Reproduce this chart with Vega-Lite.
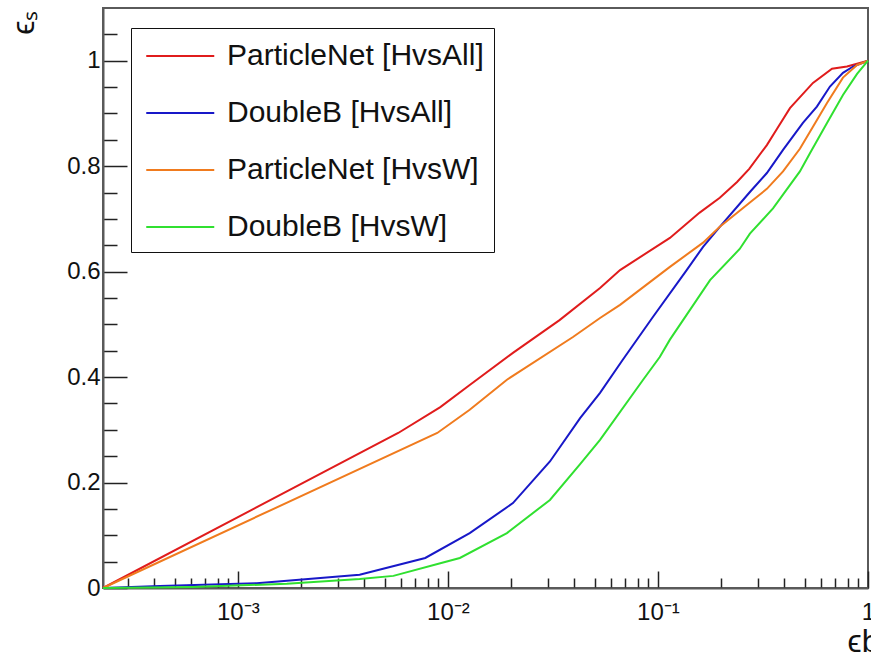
{
  "$schema": "https://vega.github.io/schema/vega-lite/v6.json",
  "autosize": {"type": "none"},
  "width": 765,
  "height": 580,
  "padding": {"left": 103, "top": 8, "right": 3, "bottom": 71},
  "background": "white",
  "config": {
    "view": {"stroke": "#5a5a5a", "strokeWidth": 2},
    "font": "Liberation Sans"
  },
  "data": {
    "values": [
      {"tagger": "ParticleNet [HvsAll]", "eb": 0.000228, "es": 0.0},
      {"tagger": "ParticleNet [HvsAll]", "eb": 0.0058, "es": 0.294},
      {"tagger": "ParticleNet [HvsAll]", "eb": 0.0092, "es": 0.343},
      {"tagger": "ParticleNet [HvsAll]", "eb": 0.0127, "es": 0.385},
      {"tagger": "ParticleNet [HvsAll]", "eb": 0.0204, "es": 0.446},
      {"tagger": "ParticleNet [HvsAll]", "eb": 0.034, "es": 0.508},
      {"tagger": "ParticleNet [HvsAll]", "eb": 0.053, "es": 0.569},
      {"tagger": "ParticleNet [HvsAll]", "eb": 0.066, "es": 0.603},
      {"tagger": "ParticleNet [HvsAll]", "eb": 0.114, "es": 0.664},
      {"tagger": "ParticleNet [HvsAll]", "eb": 0.158, "es": 0.712},
      {"tagger": "ParticleNet [HvsAll]", "eb": 0.197, "es": 0.74},
      {"tagger": "ParticleNet [HvsAll]", "eb": 0.238, "es": 0.77},
      {"tagger": "ParticleNet [HvsAll]", "eb": 0.272, "es": 0.795},
      {"tagger": "ParticleNet [HvsAll]", "eb": 0.33, "es": 0.84},
      {"tagger": "ParticleNet [HvsAll]", "eb": 0.369, "es": 0.871},
      {"tagger": "ParticleNet [HvsAll]", "eb": 0.425, "es": 0.91},
      {"tagger": "ParticleNet [HvsAll]", "eb": 0.547, "es": 0.958},
      {"tagger": "ParticleNet [HvsAll]", "eb": 0.674, "es": 0.985},
      {"tagger": "ParticleNet [HvsAll]", "eb": 0.794, "es": 0.989},
      {"tagger": "ParticleNet [HvsAll]", "eb": 1.0, "es": 1.0},

      {"tagger": "DoubleB [HvsAll]", "eb": 0.000228, "es": 0.0},
      {"tagger": "DoubleB [HvsAll]", "eb": 0.000425, "es": 0.004},
      {"tagger": "DoubleB [HvsAll]", "eb": 0.00123, "es": 0.009},
      {"tagger": "DoubleB [HvsAll]", "eb": 0.0038, "es": 0.025},
      {"tagger": "DoubleB [HvsAll]", "eb": 0.0078, "es": 0.057},
      {"tagger": "DoubleB [HvsAll]", "eb": 0.0127, "es": 0.104},
      {"tagger": "DoubleB [HvsAll]", "eb": 0.0204, "es": 0.161},
      {"tagger": "DoubleB [HvsAll]", "eb": 0.0306, "es": 0.24},
      {"tagger": "DoubleB [HvsAll]", "eb": 0.0426, "es": 0.322},
      {"tagger": "DoubleB [HvsAll]", "eb": 0.053, "es": 0.37},
      {"tagger": "DoubleB [HvsAll]", "eb": 0.068, "es": 0.433},
      {"tagger": "DoubleB [HvsAll]", "eb": 0.0946, "es": 0.514},
      {"tagger": "DoubleB [HvsAll]", "eb": 0.137, "es": 0.603},
      {"tagger": "DoubleB [HvsAll]", "eb": 0.164, "es": 0.647},
      {"tagger": "DoubleB [HvsAll]", "eb": 0.197, "es": 0.685},
      {"tagger": "DoubleB [HvsAll]", "eb": 0.274, "es": 0.751},
      {"tagger": "DoubleB [HvsAll]", "eb": 0.33, "es": 0.787},
      {"tagger": "DoubleB [HvsAll]", "eb": 0.394, "es": 0.831},
      {"tagger": "DoubleB [HvsAll]", "eb": 0.49, "es": 0.882},
      {"tagger": "DoubleB [HvsAll]", "eb": 0.571, "es": 0.913},
      {"tagger": "DoubleB [HvsAll]", "eb": 0.659, "es": 0.951},
      {"tagger": "DoubleB [HvsAll]", "eb": 0.76, "es": 0.977},
      {"tagger": "DoubleB [HvsAll]", "eb": 0.849, "es": 0.989},
      {"tagger": "DoubleB [HvsAll]", "eb": 1.0, "es": 1.0},

      {"tagger": "ParticleNet [HvsW]", "eb": 0.000228, "es": 0.0},
      {"tagger": "ParticleNet [HvsW]", "eb": 0.0089, "es": 0.294},
      {"tagger": "ParticleNet [HvsW]", "eb": 0.0127, "es": 0.338},
      {"tagger": "ParticleNet [HvsW]", "eb": 0.0191, "es": 0.395},
      {"tagger": "ParticleNet [HvsW]", "eb": 0.0394, "es": 0.476},
      {"tagger": "ParticleNet [HvsW]", "eb": 0.053, "es": 0.512},
      {"tagger": "ParticleNet [HvsW]", "eb": 0.066, "es": 0.537},
      {"tagger": "ParticleNet [HvsW]", "eb": 0.114, "es": 0.609},
      {"tagger": "ParticleNet [HvsW]", "eb": 0.164, "es": 0.655},
      {"tagger": "ParticleNet [HvsW]", "eb": 0.197, "es": 0.685},
      {"tagger": "ParticleNet [HvsW]", "eb": 0.274, "es": 0.731},
      {"tagger": "ParticleNet [HvsW]", "eb": 0.33, "es": 0.757},
      {"tagger": "ParticleNet [HvsW]", "eb": 0.394, "es": 0.79},
      {"tagger": "ParticleNet [HvsW]", "eb": 0.474, "es": 0.833},
      {"tagger": "ParticleNet [HvsW]", "eb": 0.547, "es": 0.875},
      {"tagger": "ParticleNet [HvsW]", "eb": 0.638, "es": 0.92},
      {"tagger": "ParticleNet [HvsW]", "eb": 0.76, "es": 0.968},
      {"tagger": "ParticleNet [HvsW]", "eb": 0.887, "es": 0.992},
      {"tagger": "ParticleNet [HvsW]", "eb": 1.0, "es": 1.0},

      {"tagger": "DoubleB [HvsW]", "eb": 0.000228, "es": 0.0},
      {"tagger": "DoubleB [HvsW]", "eb": 0.00061, "es": 0.002},
      {"tagger": "DoubleB [HvsW]", "eb": 0.00171, "es": 0.008},
      {"tagger": "DoubleB [HvsW]", "eb": 0.0038, "es": 0.017},
      {"tagger": "DoubleB [HvsW]", "eb": 0.0055, "es": 0.023},
      {"tagger": "DoubleB [HvsW]", "eb": 0.0092, "es": 0.047},
      {"tagger": "DoubleB [HvsW]", "eb": 0.0114, "es": 0.057},
      {"tagger": "DoubleB [HvsW]", "eb": 0.0191, "es": 0.104},
      {"tagger": "DoubleB [HvsW]", "eb": 0.0306, "es": 0.167},
      {"tagger": "DoubleB [HvsW]", "eb": 0.0426, "es": 0.235},
      {"tagger": "DoubleB [HvsW]", "eb": 0.053, "es": 0.281},
      {"tagger": "DoubleB [HvsW]", "eb": 0.085, "es": 0.395},
      {"tagger": "DoubleB [HvsW]", "eb": 0.102, "es": 0.438},
      {"tagger": "DoubleB [HvsW]", "eb": 0.114, "es": 0.471},
      {"tagger": "DoubleB [HvsW]", "eb": 0.177, "es": 0.584},
      {"tagger": "DoubleB [HvsW]", "eb": 0.245, "es": 0.643},
      {"tagger": "DoubleB [HvsW]", "eb": 0.274, "es": 0.672},
      {"tagger": "DoubleB [HvsW]", "eb": 0.353, "es": 0.72},
      {"tagger": "DoubleB [HvsW]", "eb": 0.474, "es": 0.79},
      {"tagger": "DoubleB [HvsW]", "eb": 0.53, "es": 0.825},
      {"tagger": "DoubleB [HvsW]", "eb": 0.638, "es": 0.882},
      {"tagger": "DoubleB [HvsW]", "eb": 0.76, "es": 0.935},
      {"tagger": "DoubleB [HvsW]", "eb": 0.887, "es": 0.975},
      {"tagger": "DoubleB [HvsW]", "eb": 1.0, "es": 1.0}
    ]
  },
  "mark": {"type": "line", "strokeWidth": 2, "interpolate": "linear"},
  "encoding": {
    "x": {
      "field": "eb",
      "type": "quantitative",
      "scale": {"type": "log", "domain": [0.000228, 1], "nice": false},
      "axis": {
        "values": [0.0003, 0.0004, 0.0005, 0.0006, 0.0007, 0.0008, 0.0009,
                   0.001, 0.002, 0.003, 0.004, 0.005, 0.006, 0.007, 0.008, 0.009,
                   0.01, 0.02, 0.03, 0.04, 0.05, 0.06, 0.07, 0.08, 0.09,
                   0.1, 0.2, 0.3, 0.4, 0.5, 0.6, 0.7, 0.8, 0.9, 1],
        "labelExpr": "abs(log(datum.value)/LN10 - round(log(datum.value)/LN10)) < 1e-6 ? (datum.value > 0.5 ? '1' : (datum.value > 0.05 ? '10⁻¹' : (datum.value > 0.005 ? '10⁻²' : '10⁻³'))) : ''",
        "tickSize": {"condition": {"test": "abs(log(datum.value)/LN10 - round(log(datum.value)/LN10)) < 1e-6", "value": -17}, "value": -10},
        "tickColor": "#222",
        "tickWidth": 1.5,
        "labelPadding": 29,
        "labelFontSize": 24,
        "labelFont": "Liberation Sans",
        "labelColor": "#111",
        "labelFlush": false,
        "labelOverlap": false,
        "domainColor": "#5a5a5a",
        "domainWidth": 2,
        "grid": false,
        "title": "ϵb",
        "titleFont": "Liberation Sans",
        "titleFontSize": 32,
        "titleFontWeight": "normal",
        "titleColor": "#111",
        "titleAlign": "right",
        "titleBaseline": "alphabetic",
        "titleX": 776,
        "titleY": 63
      }
    },
    "y": {
      "field": "es",
      "type": "quantitative",
      "scale": {"domain": [0, 1.1], "nice": false},
      "axis": {
        "values": [0, 0.05, 0.1, 0.15, 0.2, 0.25, 0.3, 0.35, 0.4, 0.45, 0.5, 0.55, 0.6, 0.65, 0.7, 0.75, 0.8, 0.85, 0.9, 0.95, 1, 1.05],
        "labelExpr": "abs(datum.value*5 - round(datum.value*5)) < 1e-6 ? toString(round(datum.value*10)/10) : ''",
        "tickSize": {"condition": {"test": "abs(datum.value*5 - round(datum.value*5)) < 1e-6", "value": -24}, "value": -14},
        "tickColor": "#222",
        "tickWidth": 1.5,
        "labelPadding": 27,
        "labelFontSize": 24,
        "labelFont": "Liberation Sans",
        "labelColor": "#111",
        "labelFlush": false,
        "labelOverlap": false,
        "domainColor": "#5a5a5a",
        "domainWidth": 2,
        "grid": false,
        "title": "ϵₛ",
        "titleFont": "Liberation Sans",
        "titleFontSize": 32,
        "titleFontWeight": "normal",
        "titleColor": "#111",
        "titleAngle": 270,
        "titleAlign": "right",
        "titleBaseline": "alphabetic",
        "titleX": -70,
        "titleY": 2
      }
    },
    "color": {
      "field": "tagger",
      "type": "nominal",
      "scale": {
        "domain": ["ParticleNet [HvsAll]", "DoubleB [HvsAll]", "ParticleNet [HvsW]", "DoubleB [HvsW]"],
        "range": ["#e01c1c", "#1818c8", "#f07b1e", "#30e030"]
      },
      "legend": {
        "orient": "none",
        "legendX": 28,
        "legendY": 20,
        "title": null,
        "symbolType": "M-0.75,0H3.25",
        "symbolSize": 1156,
        "symbolStrokeWidth": 2,
        "labelFont": "Liberation Sans",
        "labelFontSize": 30,
        "labelColor": "#111",
        "labelOffset": 50,
        "labelLimit": 440,
        "labelExpr": "datum.label + '\u00a0\u00a0\u00a0'",
        "rowPadding": 24,
        "padding": 10,
        "strokeColor": "#111",
        "fillColor": "white"
      }
    }
  }
}
